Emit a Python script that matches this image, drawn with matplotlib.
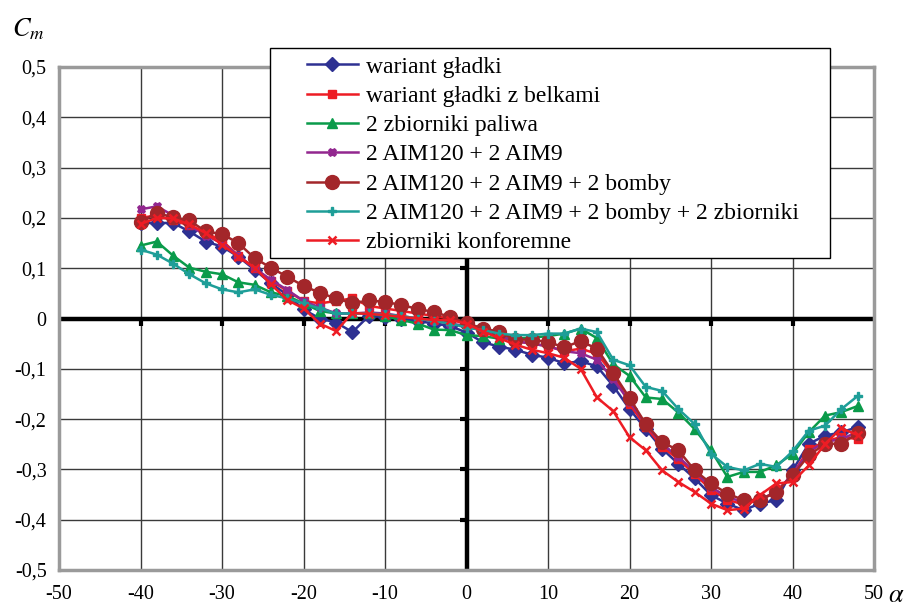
import numpy as np
import matplotlib.pyplot as plt
from matplotlib.patches import Rectangle
from matplotlib.ticker import FuncFormatter

plt.rcParams['font.family'] = 'Liberation Serif'
plt.rcParams['mathtext.fontset'] = 'stix'
plt.rcParams['axes.unicode_minus'] = False

# angle of attack, every 2 deg
alpha = list(range(-40, 50, 2))

gladki = [0.19, 0.19, 0.19, 0.173, 0.153, 0.143, 0.123, 0.097, 0.07, 0.047,
          0.018, 0.0, -0.008, -0.027, 0.005, 0.003, 0.0, -0.005, -0.01, -0.015,
          -0.028,
          -0.047, -0.056, -0.062, -0.072, -0.078, -0.089, -0.085, -0.095, -0.134, -0.18,
          -0.22, -0.259, -0.289, -0.318, -0.351, -0.368, -0.381, -0.368, -0.361, -0.302,
          -0.249, -0.233, -0.226, -0.216]
belki = [0.2, 0.205, 0.195, 0.185, 0.17, 0.155, 0.125, 0.1, 0.075, 0.055,
         0.035, 0.03, 0.035, 0.04, 0.025, 0.02, 0.015, 0.01, 0.005, 0.0,
         -0.01,
         -0.02, -0.03, -0.045, -0.05, -0.055, -0.065, -0.06, -0.07, -0.11, -0.17,
         -0.215, -0.255, -0.28, -0.31, -0.34, -0.36, -0.37, -0.36, -0.345, -0.31,
         -0.26, -0.245, -0.235, -0.24]
paliwa = [0.145, 0.153, 0.125, 0.101, 0.093, 0.088, 0.072, 0.067, 0.052, 0.045,
          0.03, 0.015, 0.01, 0.01, 0.01, 0.005, -0.003, -0.01, -0.022, -0.023,
          -0.033,
          -0.035, -0.04, -0.04, -0.038, -0.035, -0.03, -0.02, -0.039, -0.091, -0.114,
          -0.157, -0.16, -0.187, -0.22, -0.262, -0.315, -0.305, -0.305, -0.292, -0.269,
          -0.226, -0.193, -0.186, -0.174]
aim = [0.217, 0.223, 0.205, 0.185, 0.165, 0.15, 0.125, 0.1, 0.077, 0.057,
       0.035, 0.022, 0.01, 0.01, 0.012, 0.01, 0.005, 0.0, -0.005, -0.01,
       -0.015,
       -0.025, -0.035, -0.045, -0.05, -0.055, -0.065, -0.069, -0.082, -0.121, -0.165,
       -0.21, -0.25, -0.275, -0.305, -0.335, -0.355, -0.365, -0.36, -0.345, -0.31,
       -0.265, -0.245, -0.24, -0.225]
bomby = [0.192, 0.21, 0.201, 0.195, 0.173, 0.168, 0.15, 0.12, 0.101, 0.083,
         0.065, 0.051, 0.04, 0.03, 0.036, 0.033, 0.027, 0.019, 0.013, 0.003,
         -0.009,
         -0.02, -0.026, -0.042, -0.042, -0.047, -0.057, -0.045, -0.06, -0.108, -0.158,
         -0.21, -0.246, -0.262, -0.302, -0.328, -0.348, -0.361, -0.361, -0.345, -0.312,
         -0.272, -0.249, -0.249, -0.228]
bomby_zb = [0.137, 0.127, 0.109, 0.088, 0.07, 0.058, 0.052, 0.058, 0.047, 0.04,
            0.03, 0.02, 0.01, 0.01, 0.01, 0.008, 0.005, 0.0, -0.005, -0.01,
            -0.018,
            -0.023, -0.03, -0.033, -0.033, -0.03, -0.03, -0.02, -0.027, -0.082, -0.093,
            -0.136, -0.144, -0.18, -0.21, -0.269, -0.295, -0.302, -0.289, -0.295, -0.264,
            -0.223, -0.213, -0.18, -0.154]
konforemne = [0.188, 0.2, 0.199, 0.187, 0.17, 0.147, 0.123, 0.101, 0.068, 0.037,
              0.02, -0.01, -0.025, 0.011, 0.009, 0.007, 0.003, 0.0, -0.003, -0.003,
              -0.01,
              -0.026, -0.039, -0.052, -0.062, -0.069, -0.078, -0.1, -0.157, -0.184, -0.236,
              -0.262, -0.302, -0.325, -0.345, -0.368, -0.381, -0.378, -0.351, -0.328, -0.325,
              -0.292, -0.249, -0.218, -0.232]

labels = ['wariant gładki', 'wariant gładki z belkami', '2 zbiorniki paliwa',
          '2 AIM120 + 2 AIM9', '2 AIM120 + 2 AIM9 + 2 bomby',
          '2 AIM120 + 2 AIM9 + 2 bomby + 2 zbiorniki', 'zbiorniki konforemne']
values = [gladki, belki, paliwa, aim, bomby, bomby_zb, konforemne]
colors = ['#2E3192', '#ED1C24', '#0A9B4A', '#92278F', '#A3262A', '#1E9E98', '#ED1C24']
markers = ['D', 's', '^', 'X', 'o', 'P', 'x']
msizes = [7.5, 6, 7.5, 5, 10, 5.5, 6]

xticks = list(range(-50, 51, 10))
yticks = [round(v, 1) for v in np.arange(-0.5, 0.51, 0.1)]

fig = plt.figure(figsize=(9.15, 6.06), dpi=100)
ax = fig.add_axes([0.0645, 0.0594, 0.8907, 0.83])

lines = []
for lab, v, c, m, s in zip(labels, values, colors, markers, msizes):
    mew = 1.8 if m in ('x', 'X') else 1
    ln, = ax.plot(alpha, v, color=c, marker=m, ms=s, mew=mew, mec=c, lw=1.8,
                  label=lab, zorder=3)
    lines.append(ln)

ax.set_xlim(-50, 50)
ax.set_ylim(-0.5, 0.5)
ax.set_xticks(xticks)
ax.set_yticks(yticks)
ax.yaxis.set_major_formatter(FuncFormatter(lambda v, p: f'{v:.1f}'.replace('.', ',').replace('-0,0', '0')))
ax.tick_params(length=0, labelsize=14.5, pad=9)
ax.tick_params(axis='x', pad=11)
ax.grid(True, color='#3a3a3a', lw=1)
for sp in ax.spines.values():
    sp.set_color('#9a9a9a')
    sp.set_linewidth(2.5)

# thick zero axes with little tick stubs
ax.axhline(0, color='black', lw=3.2, zorder=2)
ax.axvline(0, color='black', lw=3.2, zorder=2)
ax.plot(xticks[1:-1], [0] * 9, ls='none', marker=3, ms=5, mew=3, color='black', zorder=2)
ax.plot([0] * 9, yticks[1:-1], ls='none', marker=0, ms=5, mew=3, color='black', zorder=2)

fig.text(0.013, 0.94, r'$C_m$', fontsize=19)
fig.text(0.98, 0.006, r'$\alpha$', fontsize=19, ha='center')

# legend box drawn separately so the inner margins match
box = Rectangle((270 / 915, 1 - 258 / 606), 560 / 915, 210 / 606, transform=fig.transFigure,
                facecolor='white', edgecolor='black', lw=1, zorder=4)
fig.add_artist(box)
leg = fig.legend(lines, labels, loc='upper left', bbox_to_anchor=(307 / 915, 1 - 56 / 606),
                 frameon=False, borderpad=0, borderaxespad=0, fontsize=17,
                 handlelength=2.15, labelspacing=0.33, handletextpad=0.35)
leg.set_zorder(5)

fig.savefig('out.png', dpi=100)
